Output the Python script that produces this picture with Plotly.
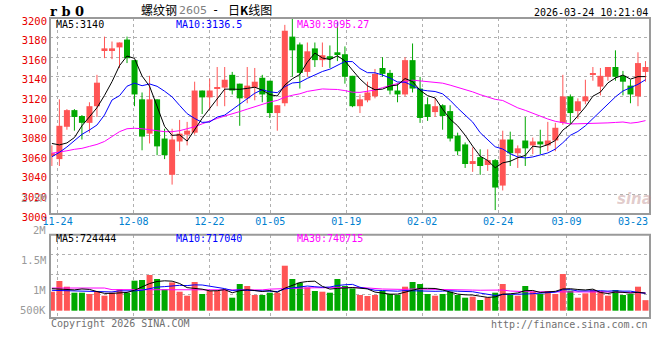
import plotly.graph_objects as go

# ---------------- data ----------------
dates = ["11-21","11-24","11-25","11-26","11-27","11-28",
         "12-01","12-02","12-03","12-04","12-05","12-08","12-09","12-10","12-11","12-12",
         "12-15","12-16","12-17","12-18","12-19","12-22","12-23","12-24","12-25","12-26",
         "12-29","12-30","12-31",
         "01-05","01-06","01-07","01-08","01-09","01-12","01-13","01-14","01-15","01-16",
         "01-19","01-20","01-21","01-22","01-23","01-26","01-27","01-28","01-29","01-30",
         "02-02","02-03","02-04","02-05","02-06","02-09","02-10","02-11","02-12","02-13",
         "02-24","02-25","02-26","02-27",
         "03-02","03-03","03-04","03-05","03-06","03-09","03-10","03-11","03-12","03-13",
         "03-16","03-17","03-18","03-19","03-20","03-23","03-24"]

opens = [3060,3056,3089,3106,3100,3093,3110,3167,3167,3170,
         3178,3157,3117,3082,3117,3077,3040,3074,3081,3083,
         3126,3119,3128,3129,3142,3133,3118,3129,3139,3136,
         3103,3113,3181,3173,3145,3169,3157,3161,3165,3163,
         3141,3110,3116,3120,3149,3144,3126,3122,3157,3128,
         3112,3104,3111,3105,3080,3071,3052,3058,3050,3055,
         3029,3076,3062,3075,3070,3074,3070,3075,3093,3120,
         3105,3115,3142,3130,3140,3150,3141,3131,3120,3145]
highs = [3070,3117,3107,3107,3101,3114,3142,3181,3176,3175,
         3181,3157,3124,3141,3117,3087,3087,3096,3094,3135,
         3126,3138,3150,3150,3145,3133,3150,3149,3142,3136,
         3111,3193,3200,3175,3175,3175,3175,3172,3196,3171,
         3141,3122,3135,3148,3160,3147,3133,3160,3174,3140,
         3119,3118,3112,3111,3083,3073,3068,3066,3066,3056,
         3085,3084,3070,3099,3078,3086,3094,3093,3142,3122,
         3118,3137,3150,3149,3150,3167,3146,3137,3165,3156]
lows = [3049,3049,3086,3085,3076,3083,3099,3159,3158,3149,
        3154,3110,3065,3072,3060,3056,3030,3064,3070,3081,
        3102,3106,3110,3110,3122,3090,3113,3116,3114,3098,
        3085,3110,3140,3128,3140,3150,3150,3149,3156,3133,
        3109,3103,3114,3118,3140,3122,3114,3120,3124,3093,
        3095,3099,3086,3074,3060,3047,3043,3040,3044,3004,
        3024,3049,3047,3049,3061,3061,3064,3064,3091,3092,
        3097,3112,3136,3121,3136,3136,3121,3113,3110,3135]
closes = [3062,3090,3106,3099,3093,3110,3134,3169,3169,3175,
          3159,3122,3079,3117,3069,3060,3076,3082,3085,3126,
          3119,3126,3129,3137,3126,3118,3131,3135,3122,3103,
          3111,3187,3167,3144,3166,3157,3162,3159,3163,3140,
          3110,3117,3124,3143,3143,3126,3122,3157,3128,3098,
          3099,3110,3100,3077,3064,3051,3054,3049,3055,3027,
          3076,3062,3067,3067,3074,3071,3075,3088,3120,3103,
          3115,3120,3143,3141,3150,3140,3135,3122,3154,3150]
volumes = [785000,1227000,992000,744000,744000,690000,785000,620000,744000,880000,
           744000,1240000,1269000,1475000,1310000,880000,1169000,785000,620000,1186000,
           690000,814000,814000,855000,537000,1103000,1021000,649000,649000,744000,
           744000,1859000,1310000,1157000,963000,814000,785000,744000,1310000,1021000,
           921000,649000,607000,649000,826000,690000,649000,992000,1186000,1103000,
           690000,620000,690000,785000,649000,537000,578000,442000,550000,744000,
           1103000,649000,620000,1021000,785000,690000,814000,690000,1517000,826000,
           537000,717000,860000,814000,620000,855000,649000,690000,992000,436000]

# moving-average values before enough history is on screen
ma5_head = [3072, 3070.5, 3072.5, 3078]
ma10_head = [3058.4, 3062.9, 3068.4, 3074.5, 3081.3, 3085.7, 3090.8, 3101, 3116.3]
ma30_head = [3062, 3063, 3064.5, 3066, 3067, 3069, 3071, 3074, 3079, 3084,
             3087, 3087.5, 3087, 3086, 3085, 3084, 3084, 3085, 3087, 3089,
             3092, 3095, 3097.5, 3100, 3102, 3104.5, 3107, 3109.5, 3112]
vma5_head = [909000, 895000, 880000, 860000]
vma10_head = [843000, 836000, 828000, 820000, 812000, 800000, 790000, 780000, 775000]
vma30_head = [937000]*8 + [870000]*12 + [860000]*9

date_ticks = ["11-24","12-08","12-22","01-05","01-19","02-02","02-24","03-09"]
last_date_label = "03-23"
price_ticks = [3000,3020,3040,3060,3080,3100,3120,3140,3160,3180,3200]
vol_labels = ["2.5M","2M","1.5M","1M","500K"]
ma_texts = ["MA5:3140", "MA10:3136.5", "MA30:3095.27"]
vma_texts = ["MA5:724444", "MA10:717040", "MA30:740715"]

# ---------------- helpers ----------------
def moving_average(values, n, head):
    out = list(head)
    for i in range(len(head), len(values)):
        out.append(sum(values[i - n + 1:i + 1]) / n)
    return out

W, H = 660, 360
def px(x): return x / W
def py(y): return 1 - y / H

RED = "#FF5555"
GREEN = "#00A800"
GRID = "#B0B0B0"
BORDER = "#9A9A9A"
MONO = "DejaVu Sans Mono"

n = len(closes)
idx = list(range(n))
XR = [-0.25, 79.6]
# the original draws its date grid on a slightly different step than its bars
def grid_x(i):
    return XR[0] + i * (XR[1] - XR[0]) / (n - 1)

up = [c >= o for o, c in zip(opens, closes)]
colors = [RED if u else GREEN for u in up]

ma5 = moving_average(closes, 5, ma5_head)
ma10 = moving_average(closes, 10, ma10_head)
ma30 = moving_average(closes, 30, ma30_head)
vma5 = moving_average(volumes, 5, vma5_head)
vma10 = moving_average(volumes, 10, vma10_head)
vma30 = moving_average(volumes, 30, vma30_head)

fig = go.Figure()

# wicks
for flag, col in ((True, RED), (False, GREEN)):
    wx, wy = [], []
    for i in idx:
        if up[i] == flag:
            wx += [i, i, None]
            wy += [lows[i], highs[i], None]
    fig.add_trace(go.Scatter(x=wx, y=wy, mode="lines", line=dict(color=col, width=1),
                             hoverinfo="skip", xaxis="x", yaxis="y"))

# bodies
fig.add_trace(go.Bar(x=idx, base=[min(o, c) for o, c in zip(opens, closes)],
                     y=[max(abs(c - o), 0.7) for o, c in zip(opens, closes)],
                     width=0.8, marker=dict(color=colors, line=dict(width=0)),
                     xaxis="x", yaxis="y"))

for ser, col in ((ma30, "#FF00FF"), (ma10, "#0000FF"), (ma5, "#000000")):
    fig.add_trace(go.Scatter(x=idx, y=ser, mode="lines", line=dict(color=col, width=1),
                             xaxis="x", yaxis="y"))

# volume
fig.add_trace(go.Bar(x=idx, y=volumes, width=0.8, marker=dict(color=colors, line=dict(width=0)),
                     xaxis="x2", yaxis="y2"))
for ser, col in ((vma30, "#FF00FF"), (vma10, "#0000FF"), (vma5, "#000000")):
    fig.add_trace(go.Scatter(x=idx, y=ser, mode="lines", line=dict(color=col, width=1),
                             xaxis="x2", yaxis="y2"))

tick_pos = [grid_x(dates.index(d)) for d in date_ticks]

# volume panel pixel geometry: 0 at y=310.7, 24.2 px per million
V_PX = 24.2e-6
v_top, v_bot, v_zero = 234.7, 318.0, 310.7
vrange = [-(v_bot - v_zero) / V_PX, (v_zero - v_top) / V_PX]
vgrid = [(v_zero - y) / V_PX for y in (254.7, 274.7, 294.7)]

fig.update_layout(
    template="none",
    width=W, height=H, margin=dict(l=0, r=0, t=0, b=0, pad=0), autosize=False,
    paper_bgcolor="white", plot_bgcolor="white", showlegend=False,
    barmode="overlay", hovermode=False,
    xaxis=dict(domain=[px(50), px(650)], range=XR, tickmode="array", tickvals=tick_pos,
               ticktext=date_ticks, showgrid=True, gridcolor=GRID, griddash="dot", gridwidth=1,
               zeroline=False, showline=False, ticks="", automargin=False,
               tickfont=dict(family=MONO, size=10, color="#0080D0"), anchor="y"),
    yaxis=dict(domain=[py(214), py(18)], range=[3000, 3200], tickmode="array",
               tickvals=price_ticks, ticktext=[str(v) for v in price_ticks],
               showgrid=True, gridcolor=GRID, griddash="dot", gridwidth=1, zeroline=False,
               ticks="", ticklabelshift=3, ticklabelstandoff=2, automargin=False,
               tickfont=dict(family=MONO, size=10.5, color="#E80000"), anchor="x"),
    xaxis2=dict(domain=[px(50), px(650)], range=XR, tickmode="array", tickvals=tick_pos,
                showticklabels=False, showgrid=True, gridcolor=GRID, griddash="dot",
                zeroline=False, ticks="", automargin=False, anchor="y2"),
    yaxis2=dict(domain=[py(v_bot), py(v_top)], range=vrange, tickmode="array", tickvals=vgrid,
                showticklabels=False, showgrid=True, gridcolor=GRID, griddash="dot",
                zeroline=False, ticks="", automargin=False, anchor="x2"),
)

# panel borders
for y0, y1 in ((214, 18), (v_bot, v_top)):
    fig.add_shape(type="rect", xref="paper", yref="paper", x0=px(50), x1=px(650),
                  y0=py(y0), y1=py(y1), line=dict(color=BORDER, width=2), layer="above")

def note(text, x, y, color="#000", size=10, anchor="left", family=MONO, **kw):
    fig.add_annotation(text=text, x=px(x), y=py(y), xref="paper", yref="paper",
                       xanchor=anchor, yanchor="middle", showarrow=False,
                       font=dict(family=family, size=size, color=color, **kw))

note("r b 0", 48, 11.5, size=13, family="DejaVu Serif", weight="bold")
CJK = "Noto Sans CJK SC"
note("螺纹钢", 139, 9.5, size=12, family=CJK)
note("2605", 177, 10.5, size=11, family="DejaVu Sans", color="#808080")
note("-", 210, 9.5, size=12, family="DejaVu Sans Mono")
note("日<b>K</b>线图", 226, 9.5, size=12, family=CJK)
note("2026-03-24 10:21:04", 650, 12.5, size=10, anchor="right")

for t, x, c in zip(ma_texts, (54, 174, 295), ("#000000", "#0000FF", "#FF00FF")):
    note(t, x, 24.5, color=c)
for t, x, c in zip(vma_texts, (54, 174, 295), ("#000000", "#0000FF", "#FF00FF")):
    note(t, x, 238.5, color=c)

note(last_date_label, 650, 221, color="#0080D0", anchor="right")

for t, y in zip(vol_labels, (198.3, 230.3, 260.3, 290.3, 310.3)):
    note(t, 48, y, color="#9A9A9A", anchor="right", size=10.5)

note("Copyright 2026 SINA.COM", 49, 323.5, color="#707070")
note("http://finance.sina.com.cn", 650, 324, color="#707070", anchor="right")
note("sina", 634, 199, color="rgba(190,140,140,0.45)", size=15, anchor="center",
     family="DejaVu Sans", style="italic", weight="bold")

fig.write_html("out.html", config={"displayModeBar": False},
               post_script="document.body.style.margin='0';")
